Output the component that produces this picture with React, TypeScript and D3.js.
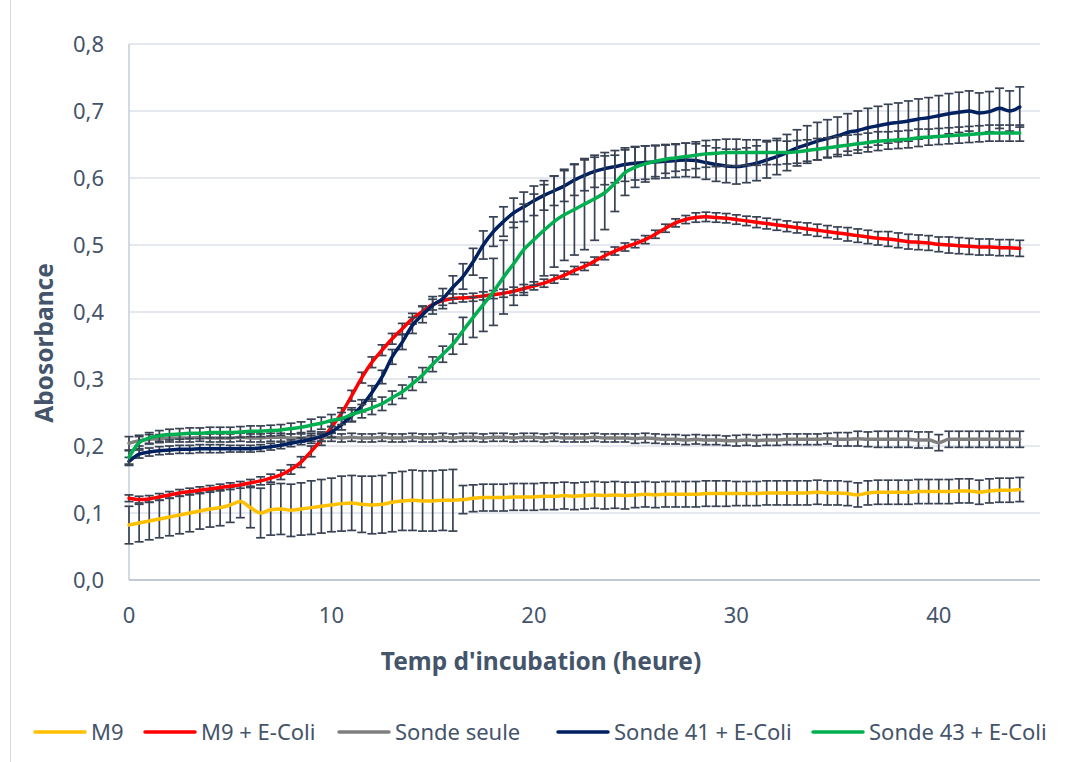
import React from 'react';
import * as d3 from 'd3';

// Sampling grid: one reading every 0.5 h from 0 to 44 h
const hours = Array.from({ length: 89 }, (_, i) => i * 0.5);

const m9 = [
  0.082, 0.085, 0.088, 0.091, 0.094, 0.097, 0.100, 0.103, 0.106, 0.108,
  0.112, 0.117, 0.108, 0.100, 0.105, 0.106, 0.104, 0.106, 0.108, 0.110,
  0.112, 0.114, 0.115, 0.113, 0.112, 0.113, 0.116, 0.118, 0.119, 0.118,
  0.118, 0.119, 0.119, 0.120, 0.122, 0.123, 0.123, 0.123, 0.124, 0.124,
  0.124, 0.125, 0.125, 0.126, 0.125, 0.126, 0.127, 0.126, 0.127, 0.126,
  0.127, 0.128, 0.127, 0.128, 0.128, 0.128, 0.128, 0.129, 0.129, 0.129,
  0.129, 0.129, 0.129, 0.130, 0.130, 0.130, 0.130, 0.130, 0.131, 0.130,
  0.130, 0.129, 0.127, 0.130, 0.131, 0.131, 0.131, 0.131, 0.132, 0.132,
  0.132, 0.132, 0.133, 0.133, 0.131, 0.133, 0.134, 0.134, 0.135,
];
const m9Err = [
  0.028, 0.028, 0.028, 0.028, 0.028, 0.028, 0.028, 0.027, 0.027, 0.027,
  0.026, 0.024, 0.030, 0.037, 0.038, 0.038, 0.039, 0.039, 0.040, 0.040,
  0.040, 0.041, 0.041, 0.042, 0.043, 0.043, 0.044, 0.044, 0.045, 0.045,
  0.045, 0.045, 0.046, 0.021, 0.020, 0.020, 0.020, 0.020, 0.020, 0.020,
  0.020, 0.020, 0.020, 0.020, 0.020, 0.020, 0.020, 0.020, 0.020, 0.020,
  0.019, 0.019, 0.019, 0.019, 0.019, 0.019, 0.019, 0.019, 0.019, 0.019,
  0.018, 0.018, 0.018, 0.018, 0.018, 0.018, 0.018, 0.018, 0.018, 0.018,
  0.018, 0.018, 0.018, 0.018, 0.018, 0.018, 0.018, 0.018, 0.018, 0.018,
  0.018, 0.018, 0.018, 0.018, 0.018, 0.018, 0.018, 0.018, 0.018,
];

const m9Coli = [
  0.122, 0.120, 0.121, 0.124, 0.127, 0.130, 0.132, 0.134, 0.136, 0.138,
  0.140, 0.142, 0.145, 0.148, 0.152, 0.157, 0.165, 0.176, 0.192, 0.209,
  0.228, 0.249, 0.275, 0.302, 0.325, 0.343, 0.360, 0.375, 0.390, 0.401,
  0.411, 0.417, 0.420, 0.421, 0.422, 0.424, 0.426, 0.428, 0.431, 0.435,
  0.439, 0.443, 0.449, 0.455, 0.462, 0.468, 0.476, 0.484, 0.491, 0.497,
  0.502, 0.508, 0.516, 0.525, 0.533, 0.538, 0.541, 0.542, 0.541, 0.540,
  0.538, 0.536, 0.534, 0.532, 0.530, 0.528, 0.526, 0.524, 0.522, 0.520,
  0.518, 0.516, 0.514, 0.512, 0.510, 0.509, 0.507, 0.505, 0.504, 0.503,
  0.501, 0.500, 0.499, 0.498, 0.497, 0.497, 0.496, 0.496, 0.495,
];
const m9ColiErr = [
  0.005, 0.005, 0.005, 0.005, 0.005, 0.005, 0.005, 0.005, 0.005, 0.005,
  0.005, 0.005, 0.005, 0.006, 0.006, 0.007, 0.007, 0.008, 0.008, 0.008,
  0.008, 0.008, 0.008, 0.008, 0.008, 0.008, 0.008, 0.008, 0.008, 0.008,
  0.008, 0.007, 0.007, 0.006, 0.006, 0.006, 0.006, 0.006, 0.006, 0.006,
  0.006, 0.006, 0.006, 0.006, 0.006, 0.006, 0.006, 0.006, 0.006, 0.006,
  0.006, 0.006, 0.006, 0.006, 0.006, 0.006, 0.007, 0.007, 0.007, 0.007,
  0.007, 0.007, 0.008, 0.008, 0.008, 0.008, 0.008, 0.009, 0.009, 0.009,
  0.009, 0.010, 0.010, 0.010, 0.010, 0.011, 0.011, 0.011, 0.011, 0.011,
  0.011, 0.012, 0.012, 0.012, 0.012, 0.012, 0.012, 0.012, 0.012,
];

const sondeSeule = [
  0.204, 0.208, 0.210, 0.211, 0.212, 0.212, 0.212, 0.213, 0.212, 0.212,
  0.212, 0.213, 0.212, 0.212, 0.213, 0.213, 0.212, 0.212, 0.213, 0.213,
  0.213, 0.212, 0.213, 0.212, 0.212, 0.213, 0.212, 0.212, 0.213, 0.212,
  0.212, 0.213, 0.212, 0.213, 0.213, 0.212, 0.213, 0.213, 0.212, 0.213,
  0.213, 0.212, 0.213, 0.212, 0.212, 0.212, 0.213, 0.212, 0.212, 0.212,
  0.211, 0.212, 0.211, 0.210, 0.210, 0.209, 0.210, 0.209, 0.209, 0.208,
  0.208, 0.209, 0.208, 0.209, 0.209, 0.210, 0.210, 0.210, 0.210, 0.211,
  0.210, 0.210, 0.211, 0.210, 0.210, 0.210, 0.210, 0.210, 0.209, 0.209,
  0.205, 0.210, 0.210, 0.210, 0.210, 0.210, 0.210, 0.210, 0.210,
];
const sondeSeuleErr = [
  0.010, 0.008, 0.007, 0.006, 0.006, 0.006, 0.006, 0.006, 0.006, 0.006,
  0.006, 0.006, 0.006, 0.006, 0.006, 0.006, 0.006, 0.006, 0.006, 0.006,
  0.006, 0.006, 0.006, 0.006, 0.006, 0.006, 0.006, 0.006, 0.006, 0.006,
  0.006, 0.006, 0.006, 0.006, 0.006, 0.006, 0.006, 0.006, 0.006, 0.006,
  0.006, 0.006, 0.006, 0.006, 0.006, 0.006, 0.006, 0.006, 0.006, 0.006,
  0.007, 0.007, 0.007, 0.007, 0.007, 0.007, 0.007, 0.007, 0.007, 0.007,
  0.008, 0.008, 0.008, 0.008, 0.008, 0.008, 0.008, 0.008, 0.008, 0.008,
  0.010, 0.010, 0.011, 0.011, 0.012, 0.012, 0.012, 0.012, 0.012, 0.012,
  0.012, 0.012, 0.012, 0.012, 0.012, 0.012, 0.012, 0.012, 0.012,
];

const sonde41 = [
  0.177, 0.188, 0.191, 0.193, 0.194, 0.195, 0.195, 0.196, 0.196, 0.196,
  0.196, 0.196, 0.196, 0.197, 0.199, 0.201, 0.204, 0.207, 0.210, 0.214,
  0.221, 0.232, 0.245, 0.260, 0.280, 0.303, 0.333, 0.355, 0.380, 0.396,
  0.410, 0.420, 0.437, 0.453, 0.475, 0.500, 0.520, 0.535, 0.548, 0.557,
  0.566, 0.574, 0.581, 0.588, 0.597, 0.604, 0.610, 0.614, 0.617, 0.620,
  0.622, 0.623, 0.624, 0.625, 0.626, 0.627, 0.626, 0.623, 0.620, 0.618,
  0.617, 0.619, 0.622, 0.627, 0.632, 0.638, 0.645, 0.650, 0.655, 0.659,
  0.663, 0.668, 0.671, 0.675, 0.678, 0.681, 0.683, 0.685, 0.688, 0.690,
  0.693, 0.696, 0.698, 0.700, 0.697, 0.699, 0.704, 0.700, 0.706,
];
const sonde41Err = [
  0.006, 0.006, 0.006, 0.006, 0.006, 0.006, 0.006, 0.006, 0.006, 0.006,
  0.005, 0.005, 0.005, 0.005, 0.005, 0.005, 0.005, 0.005, 0.006, 0.007,
  0.008, 0.008, 0.009, 0.009, 0.010, 0.010, 0.011, 0.011, 0.012, 0.012,
  0.013, 0.015, 0.017, 0.019, 0.020, 0.021, 0.022, 0.022, 0.022, 0.022,
  0.022, 0.022, 0.022, 0.023, 0.023, 0.023, 0.024, 0.024, 0.024, 0.025,
  0.025, 0.025, 0.025, 0.025, 0.025, 0.025, 0.025, 0.025, 0.025, 0.025,
  0.026, 0.026, 0.026, 0.027, 0.027, 0.027, 0.027, 0.028, 0.028, 0.028,
  0.028, 0.028, 0.029, 0.029, 0.029, 0.029, 0.029, 0.030, 0.030, 0.030,
  0.030, 0.030, 0.030, 0.030, 0.030, 0.030, 0.030, 0.030, 0.030,
];

const sonde43 = [
  0.183, 0.205, 0.212, 0.215, 0.217, 0.218, 0.219, 0.219, 0.220, 0.220,
  0.220, 0.221, 0.222, 0.222, 0.223, 0.224, 0.226, 0.228, 0.231, 0.234,
  0.238, 0.241, 0.247, 0.252, 0.257, 0.263, 0.272, 0.281, 0.293, 0.306,
  0.322, 0.337, 0.352, 0.372, 0.392, 0.411, 0.430, 0.452, 0.472, 0.493,
  0.508, 0.522, 0.535, 0.545, 0.553, 0.561, 0.569, 0.578, 0.592, 0.608,
  0.616, 0.621, 0.625, 0.628, 0.630, 0.632, 0.634, 0.636, 0.637, 0.638,
  0.638, 0.638, 0.638, 0.638, 0.638, 0.638, 0.639, 0.641, 0.643, 0.645,
  0.647, 0.649, 0.651, 0.653, 0.655, 0.656, 0.657, 0.658, 0.660, 0.661,
  0.662, 0.663, 0.664, 0.665, 0.666, 0.667, 0.667, 0.667, 0.667,
];
const sonde43Err = [
  0.010, 0.009, 0.008, 0.008, 0.008, 0.008, 0.008, 0.008, 0.008, 0.008,
  0.008, 0.008, 0.008, 0.008, 0.008, 0.008, 0.008, 0.008, 0.009, 0.009,
  0.009, 0.009, 0.010, 0.010, 0.010, 0.010, 0.010, 0.010, 0.010, 0.011,
  0.011, 0.012, 0.015, 0.020, 0.030, 0.040, 0.050, 0.055, 0.062, 0.068,
  0.068, 0.068, 0.068, 0.068, 0.068, 0.068, 0.062, 0.055, 0.042, 0.034,
  0.030, 0.027, 0.023, 0.021, 0.020, 0.020, 0.020, 0.020, 0.020, 0.020,
  0.020, 0.019, 0.019, 0.018, 0.018, 0.017, 0.017, 0.016, 0.016, 0.015,
  0.015, 0.015, 0.014, 0.014, 0.014, 0.013, 0.013, 0.013, 0.013, 0.012,
  0.012, 0.012, 0.012, 0.012, 0.012, 0.012, 0.012, 0.012, 0.012,
];

const seriesNames = ['M9', 'M9 + E-Coli', 'Sonde seule', 'Sonde 41 + E-Coli', 'Sonde 43 + E-Coli'];
const seriesValues = [m9, m9Coli, sondeSeule, sonde41, sonde43];
const seriesErrors = [m9Err, m9ColiErr, sondeSeuleErr, sonde41Err, sonde43Err];
const seriesColors = ['#FFC000', '#FF0000', '#7F7F7F', '#002060', '#00B050'];

const yTicks = [0, 0.1, 0.2, 0.3, 0.4, 0.5, 0.6, 0.7, 0.8];
const yTickLabels = ['0,0', '0,1', '0,2', '0,3', '0,4', '0,5', '0,6', '0,7', '0,8'];
const xTicks = [0, 10, 20, 30, 40];
const xTickLabels = ['0', '10', '20', '30', '40'];

const xTitle = "Temp d'incubation (heure)";
const yTitle = 'Abosorbance';

export default function App() {
  const W = 1075;
  const H = 762;
  const left = 129;
  const right = 1040;
  const top = 44;
  const bottom = 580;
  const font = "'Noto Sans', 'Open Sans', sans-serif";
  const textColor = '#44546A';

  const x = d3.scaleLinear().domain([0, 45]).range([left, right]);
  const y = d3.scaleLinear().domain([0, 0.8]).range([bottom, top]);

  const line = d3
    .line<number>()
    .x((_, i) => x(hours[i]))
    .y((d) => y(d))
    .curve(d3.curveMonotoneX);

  const legendX = [34, 144, 338, 557, 812];
  const legendY = 732;
  const cap = 4.5;

  return (
    <div style={{ position: 'fixed', left: 0, top: 0 }}>
      <svg width={W} height={H} viewBox={`0 0 ${W} ${H}`} style={{ display: 'block', background: '#fff' }}>
        <rect x={0} y={0} width={W} height={H} fill="#fff" />
        <line x1={10.5} x2={10.5} y1={0} y2={H} stroke="#D9D9D9" strokeWidth={1} />
        {/* gridlines */}
        {yTicks.slice(1).map((t) => (
          <line key={t} x1={left} x2={right} y1={y(t)} y2={y(t)} stroke="#DDE2EA" strokeWidth={1.3} />
        ))}
        {/* axes */}
        <line x1={left} x2={left} y1={top} y2={bottom} stroke="#C6CEDA" strokeWidth={1.5} />
        <line x1={left} x2={right} y1={bottom} y2={bottom} stroke="#ADB9CA" strokeWidth={1.5} />
        {/* tick labels */}
        {yTicks.map((t, i) => (
          <text key={t} x={104} y={y(t)} dy="0.35em" textAnchor="end" fontFamily={font} fontSize={22} fill={textColor}>
            {yTickLabels[i]}
          </text>
        ))}
        {xTicks.map((t, i) => (
          <text key={t} x={x(t)} y={623} textAnchor="middle" fontFamily={font} fontSize={22} fill={textColor}>
            {xTickLabels[i]}
          </text>
        ))}
        {/* axis titles */}
        <text x={541} y={670} textAnchor="middle" fontFamily={font} fontSize={24.5} fontWeight="bold" fill={textColor}>
          {xTitle}
        </text>
        <text
          transform={`translate(53, 343) rotate(-90)`}
          textAnchor="middle"
          fontFamily={font}
          fontSize={24.5}
          fontWeight="bold"
          fill={textColor}
        >
          {yTitle}
        </text>
        {/* series */}
        {seriesValues.map((vals, s) => (
          <g key={seriesNames[s]}>
            <g stroke="#384253" strokeWidth={1.7} fill="none">
              {vals.map((v, i) => {
                const e = seriesErrors[s][i];
                const cx = x(hours[i]);
                const y1 = y(v + e);
                const y2 = y(v - e);
                return (
                  <g key={i}>
                    <line x1={cx} x2={cx} y1={y1} y2={y2} />
                    <line x1={cx - cap} x2={cx + cap} y1={y1} y2={y1} />
                    <line x1={cx - cap} x2={cx + cap} y1={y2} y2={y2} />
                  </g>
                );
              })}
            </g>
            <path d={line(vals) || ''} fill="none" stroke={seriesColors[s]} strokeWidth={3.5} strokeLinejoin="round" strokeLinecap="round" />
          </g>
        ))}
        {/* legend */}
        {seriesNames.map((name, s) => (
          <g key={name}>
            <line
              x1={legendX[s] + 1}
              x2={legendX[s] + 51}
              y1={legendY}
              y2={legendY}
              stroke={seriesColors[s]}
              strokeWidth={3.5}
              strokeLinecap="round"
            />
            <text x={legendX[s] + 57} y={legendY} dy="0.35em" fontFamily={font} fontSize={22} fill={textColor}>
              {name}
            </text>
          </g>
        ))}
      </svg>
    </div>
  );
}
